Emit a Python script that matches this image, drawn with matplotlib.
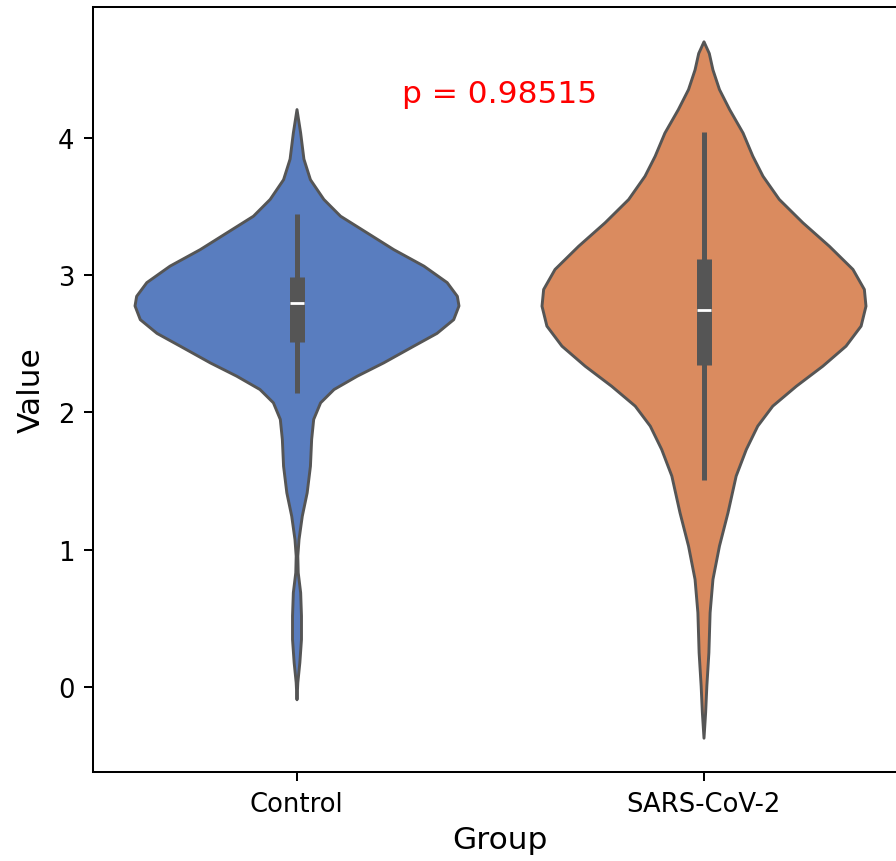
import numpy as np
import matplotlib
matplotlib.use("Agg")
import matplotlib.pyplot as plt

# group names and colours
groups = ["Control", "SARS-CoV-2"]
colors = ["#597dbf", "#da8b5f"]

# violin outlines: value level -> half width (x units)
control_y = [4.211, 4.04, 3.85, 3.70, 3.556, 3.434, 3.313, 3.19, 3.07, 2.95,
             2.85, 2.78, 2.68, 2.58, 2.487, 2.365, 2.268, 2.171, 2.074, 1.953,
             1.807, 1.612, 1.418, 1.248, 1.078, 0.957, 0.836, 0.69, 0.52, 0.35,
             0.18, 0.034, -0.09]
control_w = [0.0, 0.009, 0.017, 0.033, 0.066, 0.107, 0.172, 0.238, 0.312, 0.369,
             0.394, 0.398, 0.385, 0.344, 0.287, 0.213, 0.148, 0.091, 0.058, 0.041,
             0.036, 0.033, 0.025, 0.013, 0.005, 0.002, 0.003, 0.009, 0.011, 0.011,
             0.007, 0.002, 0.0]

sars_y = [4.705, 4.62, 4.50, 4.357, 4.211, 4.04, 3.871, 3.725, 3.556, 3.386,
          3.215, 3.046, 2.90, 2.778, 2.633, 2.487, 2.341, 2.195, 2.05, 1.904,
          1.734, 1.54, 1.273, 1.03, 0.787, 0.544, 0.252, 0.01, -0.184, -0.37]
sars_w = [0.0, 0.013, 0.022, 0.038, 0.063, 0.096, 0.120, 0.145, 0.185, 0.243,
          0.308, 0.366, 0.394, 0.398, 0.386, 0.349, 0.292, 0.227, 0.169, 0.132,
          0.104, 0.079, 0.059, 0.038, 0.022, 0.015, 0.012, 0.007, 0.004, 0.0]

# inner box stats: whisker low, q1, median, q3, whisker high
control_box = [2.144, 2.516, 2.795, 2.99, 3.446]
sars_box = [1.508, 2.349, 2.745, 3.118, 4.041]

p_value = 0.98515

line_col = "#555555"

fig = plt.figure(figsize=(8.96, 8.62), dpi=100)
ax = fig.add_axes([93 / 896, 89 / 862, 814 / 896, 765 / 862])

outlines = [(control_y, control_w), (sars_y, sars_w)]
boxes = [control_box, sars_box]

for i, ((ys, ws), box, col) in enumerate(zip(outlines, boxes, colors)):
    ys = np.array(ys)
    ws = np.array(ws)
    ax.fill_betweenx(ys, i - ws, i + ws, facecolor=col, edgecolor=line_col,
                     linewidth=2.1, joinstyle="round", zorder=2)
    lo, q1, med, q3, hi = box
    # whiskers
    ax.vlines(i, lo, hi, color=line_col, linewidth=3.6, zorder=3)
    # box
    ax.vlines(i, q1, q3, color=line_col, linewidth=10.8, zorder=3,
              capstyle="butt")
    # median
    ax.plot([i], [med], marker="_", color="white", markersize=9.4,
            markeredgewidth=2.0, zorder=4)

ax.text(0.5, 4.26, f"p = {p_value}", color="red", fontsize=22.5,
        ha="center", va="baseline")

ax.set_xlim(-0.5, 1.5)
ax.set_ylim(-0.62, 4.955)
ax.set_xticks([0, 1])
ax.set_xticklabels(groups)
ax.set_yticks([0, 1, 2, 3, 4])

ax.tick_params(labelsize=18.6, length=6.5, width=1.45, pad=7)
for s in ax.spines.values():
    s.set_linewidth(1.45)

ax.set_xlabel("Group", fontsize=22.5, labelpad=6)
ax.set_ylabel("Value", fontsize=22.5, labelpad=9)

fig.savefig("out.png", dpi=100)
